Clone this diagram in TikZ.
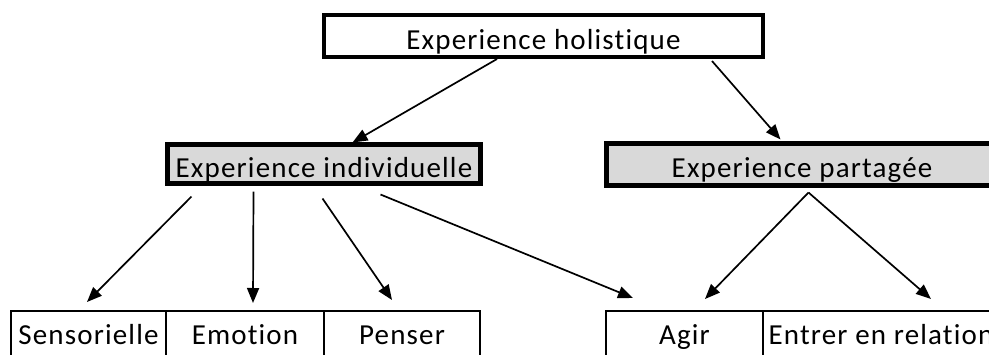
\documentclass[tikz,border=0pt]{standalone}
\usepackage{fontspec}
\setmainfont{Carlito}[LetterSpace=4,Ligatures={NoCommon,NoRequired}]
\usetikzlibrary{arrows.meta}
\definecolor{boxgray}{HTML}{D9D9D9}
\begin{document}
\begin{tikzpicture}[x=1pt,y=-1pt,
  box/.style={draw=black, rectangle, inner sep=0pt, outer sep=0pt, anchor=north west,
    font=\fontsize{29}{32}\selectfont, text height=26pt, text depth=0pt},
  topbox/.style={box, line width=4.5pt},
  midbox/.style={box, line width=5pt, fill=boxgray},
  lowbox/.style={box, line width=2.5pt, text height=22pt, text depth=2pt},
  arr/.style={line width=1.7pt, -{Triangle[length=15pt,width=12pt]}}]
\useasboundingbox (0,0) rectangle (989,354);
\clip (0,0) rectangle (989,354);
\node[topbox, minimum width=439pt, minimum height=42pt] (top) at (324,15) {Experience holistique};
\node[midbox, minimum width=313pt, minimum height=39pt] (indiv) at (167.5,144.5) {Experience individuelle};
\node[midbox, minimum width=391pt, minimum height=42pt] (part) at (606.5,143.5) {Experience partagée};
\node[lowbox, minimum width=155pt, minimum height=46pt] (sens) at (11,311) {Sensorielle};
\node[lowbox, minimum width=158pt, minimum height=46pt] (emo) at (166,311) {Emotion};
\node[lowbox, minimum width=156pt, minimum height=46pt] (pens) at (324,311) {Penser};
\node[lowbox, minimum width=157pt, minimum height=46pt] (agir) at (606,311) {Agir};
\node[lowbox, minimum width=236pt, minimum height=46pt] (rel) at (763,311) {Entrer en relation};
\draw[arr] ([xshift=173pt,yshift=-2pt]top.south west) -- ([xshift=185pt,yshift=2pt]indiv.north west);
\draw[arr] ([xshift=388pt,yshift=-4pt]top.south west) -- ([xshift=174pt,yshift=4pt]part.north west);
\draw[arr] ([xshift=24pt,yshift=-13pt]indiv.south west) -- ([xshift=76pt,yshift=9pt]sens.north west);
\draw[arr] ([xshift=86pt,yshift=-8pt]indiv.south west) -- ([xshift=87pt,yshift=8pt]emo.north west);
\draw[arr] ([xshift=155pt,yshift=-15pt]indiv.south west) -- ([xshift=68pt,yshift=11pt]pens.north west);
\draw[arr] ([xshift=213pt,yshift=-11pt]indiv.south west) -- ([xshift=27pt,yshift=13pt]agir.north west);
\draw[arr] ([xshift=202pt,yshift=-7pt]part.south west) -- ([xshift=99pt,yshift=12pt]agir.north west);
\draw[arr] ([xshift=202pt,yshift=-7pt]part.south west) -- ([xshift=168pt,yshift=12pt]rel.north west);
\end{tikzpicture}
\end{document}
